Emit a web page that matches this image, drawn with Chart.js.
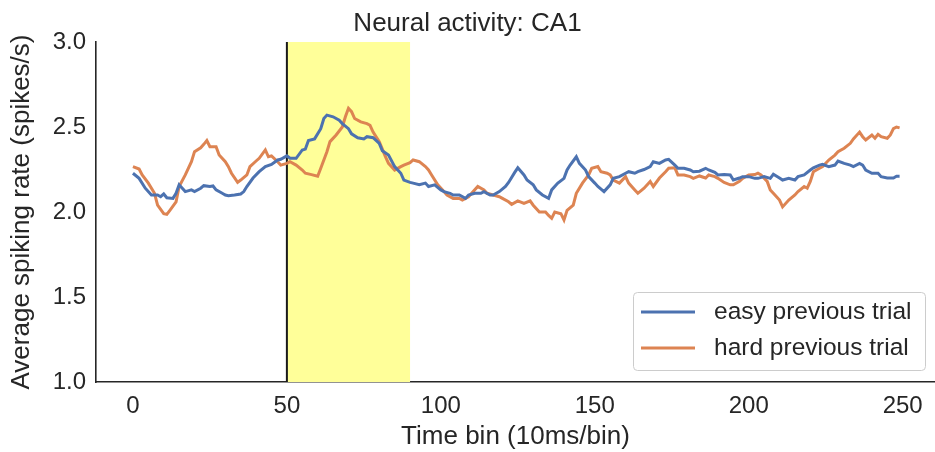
<!DOCTYPE html>
<html><head><meta charset="utf-8">
<script src="https://cdn.jsdelivr.net/npm/chart.js@4"></script>
<style>html,body{margin:0;padding:0;background:#fff;} canvas{display:block;}</style>
</head><body>
<canvas id="c" width="935" height="452"></canvas>
<script>
const chartTitle = "Neural activity: CA1";
const xAxisLabel = "Time bin (10ms/bin)";
const yAxisLabel = "Average spiking rate (spikes/s)";
const seriesNames = ["easy previous trial", "hard previous trial"];
const xTicks = [0, 50, 100, 150, 200, 250];
const yTicks = [1.0, 1.5, 2.0, 2.5, 3.0];
const stimulusWindow = [50, 90];

const easyBins = [0,2,4,6,8,9,10,11,13,14,15,17,19,20,22,23,25,26,27,29,30,31,33,35,36,37,39,41,43,45,47,48,50,51,53,55,56,57,59,61,62,63,65,67,68,70,71,73,75,76,78,80,81,83,85,87,88,90,91,93,95,96,98,100,101,103,104,106,108,109,111,113,114,116,117,119,121,122,124,125,127,128,130,131,133,135,136,138,140,141,142,144,145,147,148,150,151,153,155,156,158,160,161,163,164,166,168,169,171,173,174,176,177,179,181,182,184,186,187,189,190,192,194,195,197,198,200,202,203,205,207,208,210,211,213,215,216,218,220,221,223,224,226,228,229,231,233,234,236,237,238,240,242,243,245,247,248,249];
const easyRate = [2.228,2.198,2.14,2.10,2.10,2.09,2.106,2.084,2.08,2.11,2.16,2.12,2.13,2.12,2.14,2.155,2.15,2.153,2.13,2.11,2.10,2.096,2.10,2.106,2.12,2.15,2.20,2.237,2.267,2.28,2.306,2.31,2.33,2.316,2.316,2.365,2.37,2.42,2.43,2.49,2.55,2.57,2.56,2.54,2.52,2.49,2.46,2.437,2.43,2.443,2.437,2.404,2.36,2.335,2.267,2.228,2.188,2.174,2.17,2.16,2.17,2.15,2.16,2.13,2.12,2.11,2.10,2.10,2.08,2.10,2.11,2.11,2.12,2.10,2.10,2.12,2.15,2.174,2.233,2.26,2.218,2.188,2.16,2.13,2.10,2.08,2.13,2.17,2.198,2.247,2.276,2.325,2.286,2.247,2.208,2.17,2.15,2.12,2.16,2.198,2.208,2.228,2.237,2.228,2.237,2.25,2.267,2.296,2.286,2.306,2.31,2.276,2.257,2.257,2.247,2.237,2.24,2.257,2.247,2.233,2.218,2.22,2.218,2.188,2.20,2.208,2.208,2.198,2.198,2.208,2.198,2.222,2.20,2.188,2.198,2.188,2.208,2.218,2.247,2.26,2.276,2.28,2.267,2.276,2.30,2.286,2.276,2.267,2.286,2.276,2.247,2.228,2.228,2.208,2.20,2.20,2.21,2.21];

const hardBins = [0,2,3,5,7,8,10,11,12,14,15,17,19,20,22,23,24,25,27,28,30,31,32,34,35,37,38,40,41,43,44,45,47,48,50,51,53,55,56,58,60,61,63,64,66,68,69,70,71,72,74,76,77,78,80,81,82,83,85,87,88,90,91,93,95,96,97,99,101,102,104,106,107,109,110,112,114,115,117,119,120,122,123,125,127,129,130,132,134,135,136,137,139,140,141,143,144,146,148,149,151,152,154,155,156,158,160,161,163,164,166,168,169,171,173,174,176,177,179,181,182,184,186,187,189,190,192,194,195,197,198,200,202,203,204,206,207,208,210,211,213,215,216,218,219,220,221,223,224,226,228,229,231,233,234,236,237,238,240,241,242,243,245,246,247,248,249];
const hardRate = [2.267,2.253,2.218,2.17,2.11,2.04,1.99,1.986,2.01,2.06,2.15,2.218,2.296,2.355,2.378,2.398,2.42,2.384,2.384,2.335,2.296,2.267,2.228,2.174,2.188,2.218,2.267,2.30,2.316,2.365,2.325,2.33,2.296,2.276,2.286,2.296,2.276,2.247,2.228,2.22,2.21,2.257,2.355,2.414,2.453,2.50,2.56,2.61,2.59,2.55,2.53,2.52,2.51,2.47,2.414,2.37,2.325,2.286,2.247,2.267,2.276,2.29,2.306,2.296,2.267,2.247,2.218,2.16,2.12,2.10,2.08,2.08,2.07,2.09,2.11,2.15,2.13,2.11,2.10,2.09,2.08,2.06,2.045,2.065,2.05,2.065,2.04,2.00,2.00,1.98,1.963,2.00,1.99,1.953,2.01,2.04,2.11,2.17,2.218,2.257,2.267,2.237,2.228,2.218,2.188,2.17,2.208,2.17,2.13,2.11,2.14,2.18,2.15,2.20,2.237,2.257,2.26,2.218,2.218,2.208,2.198,2.212,2.20,2.218,2.208,2.198,2.174,2.16,2.16,2.18,2.198,2.218,2.22,2.228,2.218,2.18,2.13,2.11,2.07,2.03,2.07,2.10,2.12,2.15,2.14,2.18,2.237,2.257,2.267,2.306,2.335,2.355,2.375,2.404,2.43,2.47,2.443,2.424,2.453,2.434,2.457,2.443,2.434,2.453,2.49,2.50,2.495];

const FONT = "'Liberation Sans', Arial, sans-serif";
const TEXT = '#262626';
const COLORS = ['#4c72b0', '#dd8452'];

const toPoints = (xs, ys) => xs.map((x, i) => ({x: x, y: ys[i]}));

const stimulusPlugin = {
  id: 'stimulus',
  beforeDatasetsDraw(chart) {
    const {ctx, chartArea, scales} = chart;
    const x0 = scales.x.getPixelForValue(stimulusWindow[0]);
    const x1 = scales.x.getPixelForValue(stimulusWindow[1]);
    ctx.save();
    ctx.fillStyle = '#ffff99';
    ctx.fillRect(x0, chartArea.top, x1 - x0, chartArea.bottom - chartArea.top);
    ctx.strokeStyle = '#1a1a1a';
    ctx.lineWidth = 2;
    ctx.beginPath();
    ctx.moveTo(x0, chartArea.top);
    ctx.lineTo(x0, chartArea.bottom);
    ctx.stroke();
    ctx.restore();
  }
};

const legendPlugin = {
  id: 'insideLegend',
  afterDatasetsDraw(chart) {
    const {ctx, chartArea} = chart;
    const right = chartArea.right - 10, bottom = chartArea.bottom - 12;
    const w = 292, h = 78;
    const left = right - w, top = bottom - h;
    ctx.save();
    ctx.fillStyle = 'rgba(255,255,255,0.85)';
    ctx.strokeStyle = '#cccccc';
    ctx.lineWidth = 1;
    ctx.beginPath();
    ctx.roundRect(left + 0.5, top + 0.5, w, h, 4);
    ctx.fill();
    ctx.stroke();
    ctx.font = '24.5px ' + FONT;
    ctx.textBaseline = 'middle';
    ctx.textAlign = 'left';
    chart.data.datasets.forEach((ds, i) => {
      const y = top + 20 + i * 36;
      ctx.strokeStyle = ds.borderColor;
      ctx.lineWidth = 3;
      ctx.beginPath();
      ctx.moveTo(left + 8, y);
      ctx.lineTo(left + 62, y);
      ctx.stroke();
      ctx.fillStyle = TEXT;
      ctx.fillText(ds.label, left + 81, y);
    });
    ctx.restore();
  }
};

new Chart(document.getElementById('c'), {
  type: 'line',
  data: {
    datasets: [
      {label: seriesNames[0], data: toPoints(easyBins, easyRate), borderColor: COLORS[0], backgroundColor: COLORS[0], borderWidth: 3, pointRadius: 0, tension: 0},
      {label: seriesNames[1], data: toPoints(hardBins, hardRate), borderColor: COLORS[1], backgroundColor: COLORS[1], borderWidth: 3, pointRadius: 0, tension: 0}
    ]
  },
  options: {
    responsive: false,
    animation: false,
    devicePixelRatio: 1,
    layout: {padding: {left: 0, right: 0, top: 0, bottom: 0}},
    plugins: {
      legend: {display: false},
      tooltip: {enabled: false},
      title: {display: true, text: chartTitle, color: TEXT, font: {family: FONT, size: 26, weight: 'normal'}, padding: {top: 8, bottom: 2.8}}
    },
    scales: {
      x: {
        type: 'linear', min: -12, max: 260.5,
        afterBuildTicks: (s) => { s.ticks = xTicks.map(v => ({value: v})); },
        afterFit: (s) => { s.height = 70; },
        grid: {display: false, drawTicks: false},
        border: {display: true, color: TEXT, width: 1.6},
        ticks: {color: TEXT, font: {family: FONT, size: 24}, padding: 10, maxRotation: 0, callback: (v) => String(v)},
        title: {display: true, text: xAxisLabel, color: TEXT, font: {family: FONT, size: 26}, padding: {top: 0, bottom: 0}}
      },
      y: {
        type: 'linear', min: 1.0, max: 3.0,
        afterBuildTicks: (s) => { s.ticks = yTicks.map(v => ({value: v})); },
        afterFit: (s) => { s.width = 96; },
        grid: {display: false, drawTicks: false},
        border: {display: true, color: TEXT, width: 1.6},
        ticks: {color: TEXT, font: {family: FONT, size: 24}, padding: 10, callback: (v) => Number(v).toFixed(1)},
        title: {display: true, text: yAxisLabel, color: TEXT, font: {family: FONT, size: 26}, padding: {top: 6, bottom: 0}}
      }
    }
  },
  plugins: [stimulusPlugin, legendPlugin]
});
</script>
</body></html>
